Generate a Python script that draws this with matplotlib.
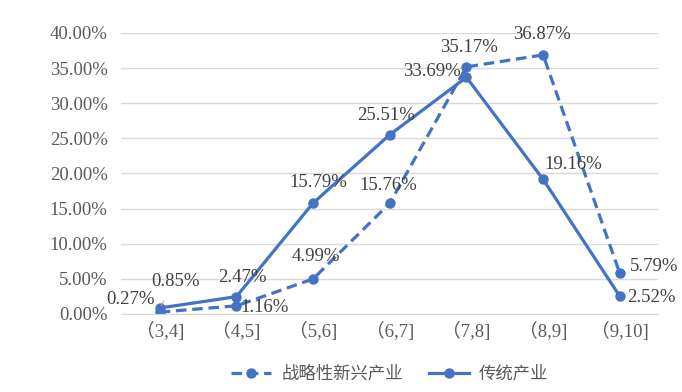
import matplotlib.pyplot as plt
from matplotlib.ticker import FuncFormatter

plt.rcParams['font.family'] = ['Liberation Serif', 'Noto Sans CJK SC']

categories = ["（3,4]", "（4,5]", "（5,6]", "（6,7]", "（7,8]", "（8,9]", "（9,10]"]
emerging = [0.27, 1.16, 4.99, 15.76, 35.17, 36.87, 5.79]
traditional = [0.85, 2.47, 15.79, 25.51, 33.69, 19.16, 2.52]

# label offsets in points (dx, dy)
off_emerging = [(-21, 9), (20, -1), (2, 16), (-1, 13), (2, 14), (-1, 15), (25, 5)]
off_traditional = [(11, 19), (4, 14), (4, 15), (-3, 14), (-25, 4), (22, 11), (23, -1)]

color = "#4472C4"
fig = plt.figure(figsize=(6.82, 3.92), dpi=100)
ax = fig.add_axes([0.178, 0.199, 0.787, 0.717])

x = range(len(categories))
ax.plot(x, emerging, color=color, lw=2.3, ls=(0, (3.3, 1.8)), marker="o", ms=6.5, label="战略性新兴产业")
ax.plot(x, traditional, color=color, lw=2.3, marker="o", ms=6.5, label="传统产业")

for i in x:
    ax.annotate(f"{emerging[i]:.2f}%", (i, emerging[i]), xytext=off_emerging[i],
                textcoords="offset points", ha="center", va="center", fontsize=13.5, color="#404040")
    arrow = None
    if i == 0:
        arrow = dict(arrowstyle="-", color="#a6a6a6", lw=0.8, shrinkA=7, shrinkB=2)
    ax.annotate(f"{traditional[i]:.2f}%", (i, traditional[i]), xytext=off_traditional[i],
                textcoords="offset points", ha="center", va="center", fontsize=13.5, color="#404040",
                arrowprops=arrow)

ax.set_ylim(0, 40)
ax.set_xlim(-0.5, len(categories) - 0.5)
ax.set_yticks(range(0, 41, 5))
ax.yaxis.set_major_formatter(FuncFormatter(lambda v, p: f"{v:.2f}%"))
ax.set_xticks(list(x))
ax.set_xticklabels(categories)
ax.tick_params(length=0, labelsize=13.5, labelcolor="#595959", pad=6)
ax.tick_params(axis="y", pad=10)
ax.grid(axis="y", color="#d9d9d9", lw=1)
ax.set_axisbelow(True)
for s in ["top", "right", "left"]:
    ax.spines[s].set_visible(False)
ax.spines["bottom"].set_color("#d9d9d9")

ax.legend(loc="upper center", bbox_to_anchor=(0.5, -0.13), ncol=2, frameon=False,
          fontsize=12.5, labelcolor="#595959", handlelength=2.3, handletextpad=0.6,
          columnspacing=1.5)

plt.savefig("out.png")
